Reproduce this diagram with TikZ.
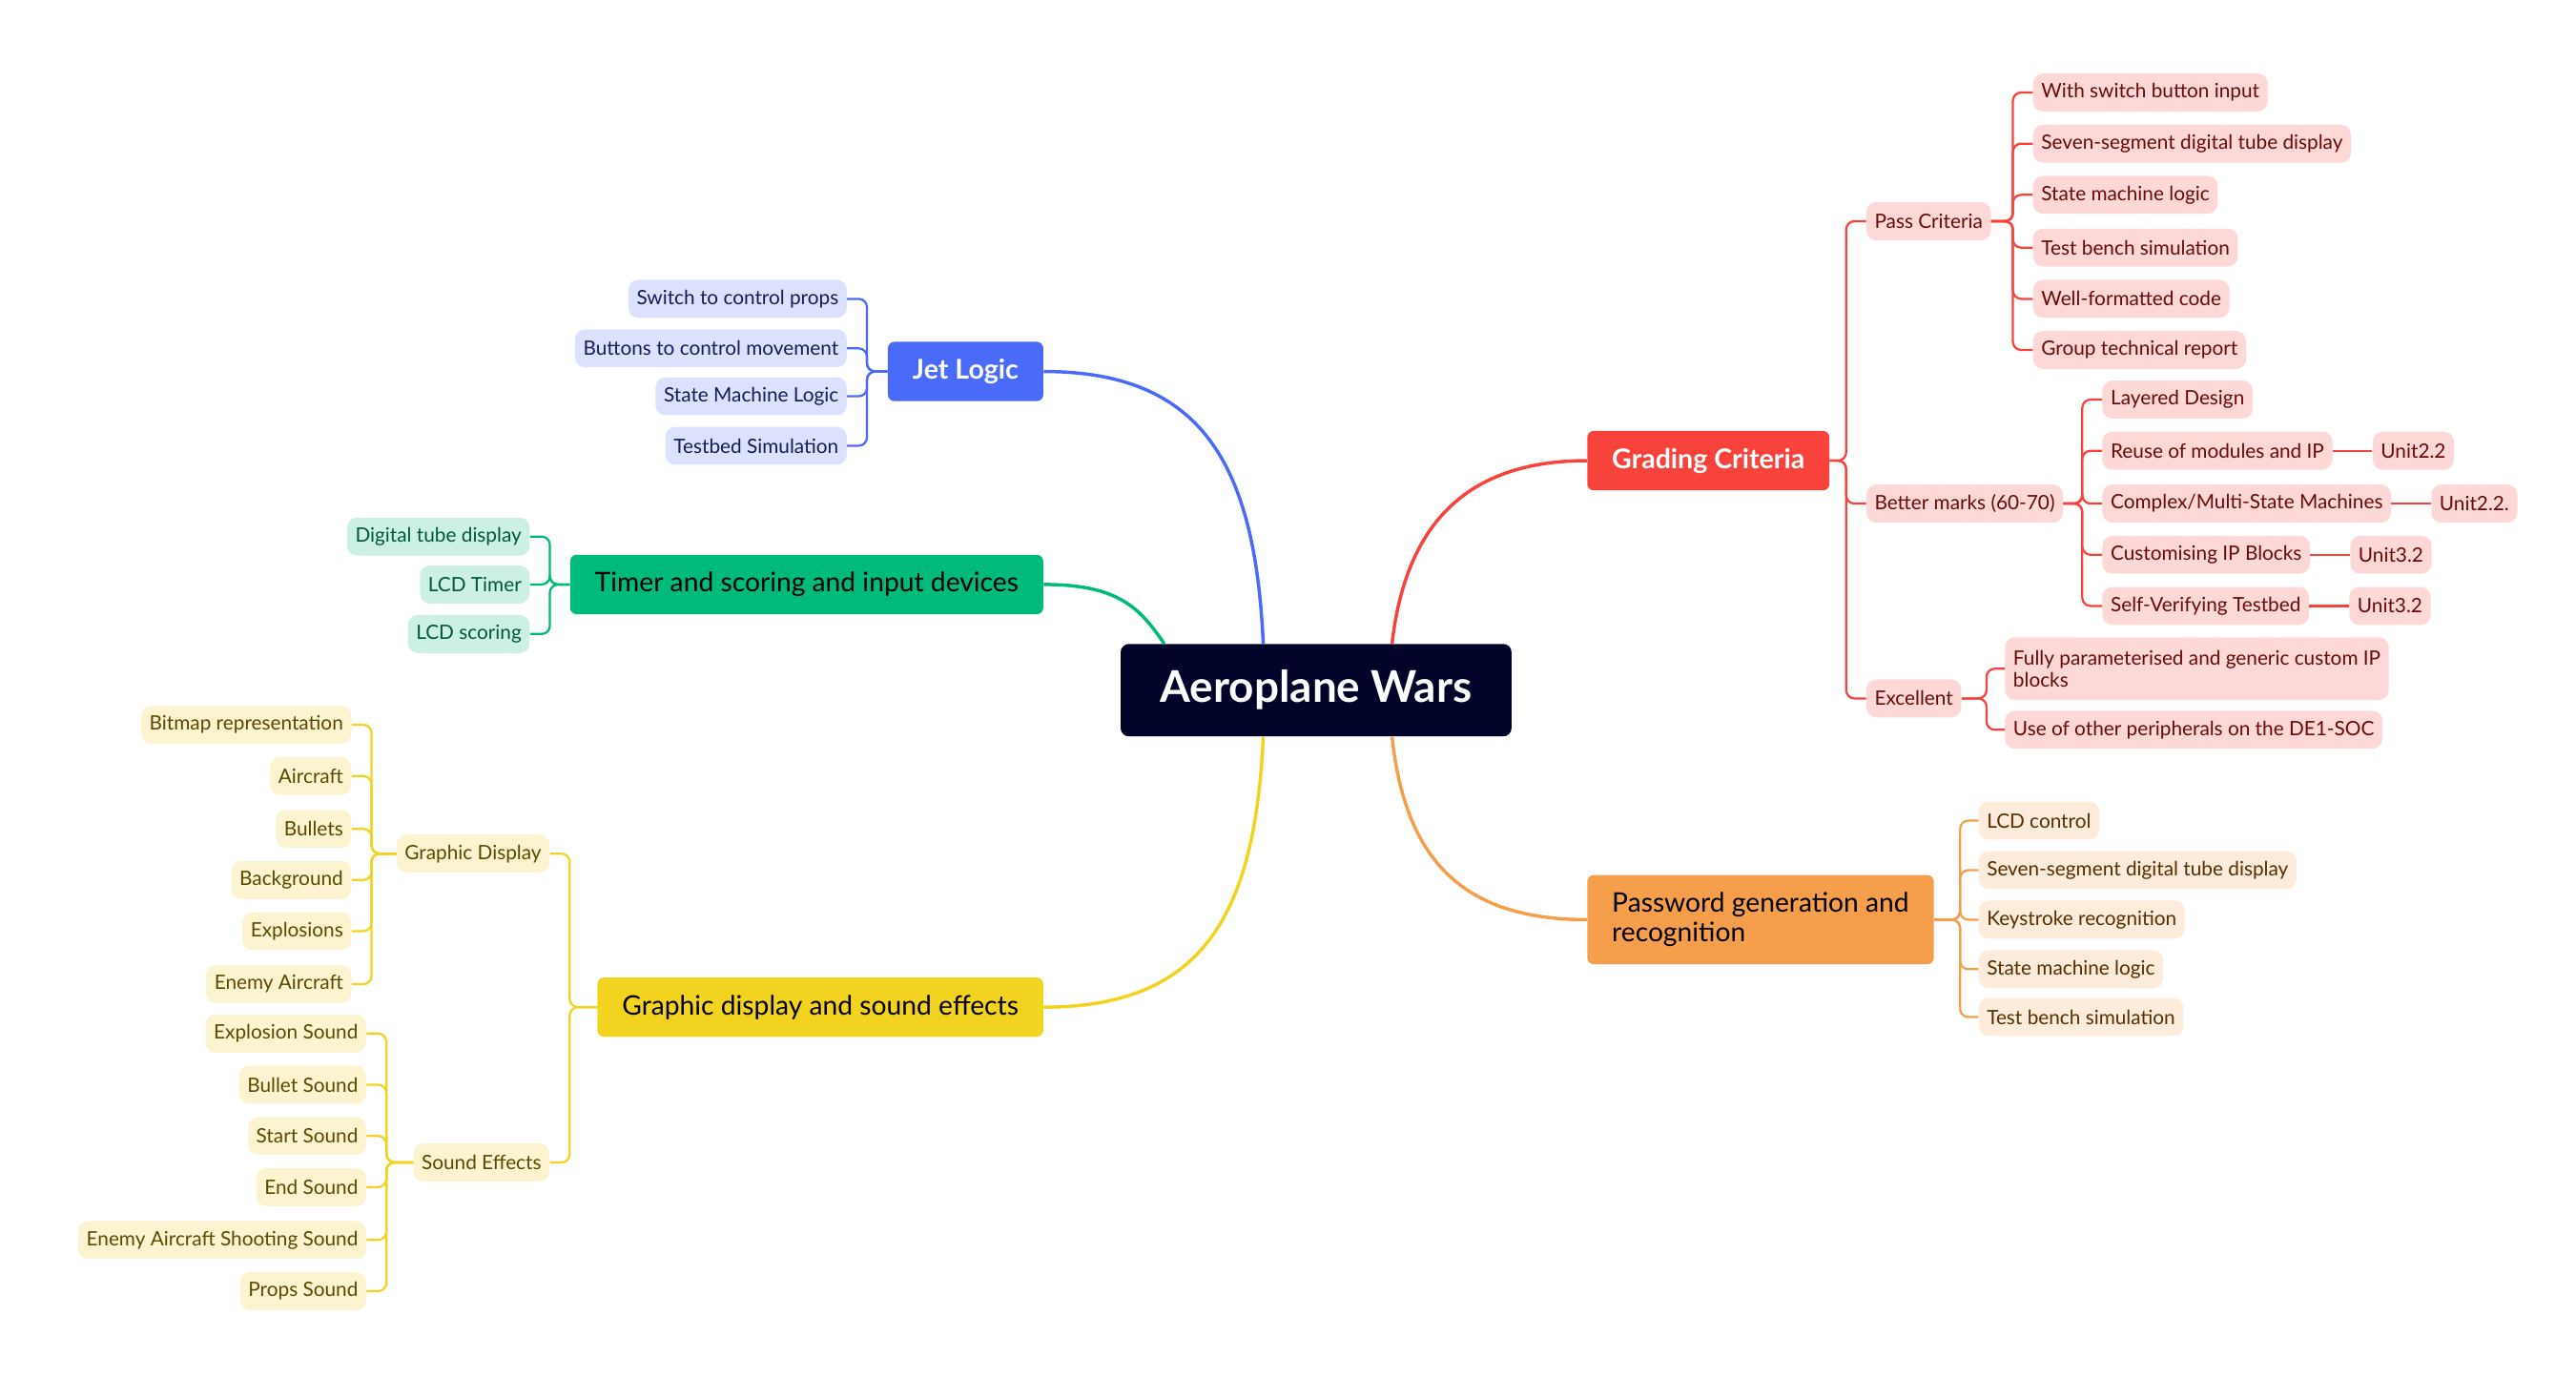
\documentclass[tikz,border=0pt]{standalone}
\usepackage{fontspec}
\setmainfont{Lato}
\usepackage{xcolor}
\usepackage{tikz}
\usetikzlibrary{positioning}

\definecolor{navy}{HTML}{020329}
\definecolor{jetblue}{HTML}{4A6BF9}
\definecolor{jetlight}{HTML}{DCE2FD}
\definecolor{jettext}{HTML}{141C5E}
\definecolor{timgreen}{HTML}{00BA7C}
\definecolor{timlight}{HTML}{CCF1E4}
\definecolor{timtext}{HTML}{00573A}
\definecolor{gfxyellow}{HTML}{F1D320}
\definecolor{gfxlight}{HTML}{FCF4D1}
\definecolor{gfxtext}{HTML}{5A4A00}
\definecolor{gradred}{HTML}{F8433D}
\definecolor{gradlight}{HTML}{FED8D7}
\definecolor{gradtext}{HTML}{6B0A0A}
\definecolor{pwdorange}{HTML}{F59F4C}
\definecolor{pwdlight}{HTML}{FDEBDB}
\definecolor{pwdtext}{HTML}{5A2E00}

\begin{document}
\begin{tikzpicture}[x=1pt, y=-1pt,
  title/.style={fill=navy, text=white, rounded corners=5pt, font=\fontsize{26.5}{30}\selectfont\bfseries, minimum height=56pt, inner xsep=24pt},
  branch/.style={rounded corners=4pt, font=\fontsize{16.3}{19}\selectfont, minimum height=36pt, inner xsep=15pt},
  boldbranch/.style={branch, text=white, font=\fontsize{16.5}{19}\selectfont\bfseries},
  leaf/.style={rounded corners=6pt, font=\fontsize{12}{14}\selectfont, minimum height=23pt, inner xsep=5pt},
  jetleaf/.style={leaf, fill=jetlight, text=jettext, anchor=east},
  timleaf/.style={leaf, fill=timlight, text=timtext, anchor=east},
  gfxleaf/.style={leaf, fill=gfxlight, text=gfxtext, anchor=east},
  gradleaf/.style={leaf, fill=gradlight, text=gradtext, anchor=west},
  pwdleaf/.style={leaf, fill=pwdlight, text=pwdtext, anchor=west},
  link/.style={line width=2pt},
  twig/.style={line width=1.3pt, rounded corners=5pt},
  node distance=24pt]
\useasboundingbox (0,0) rectangle (1560,834);
% centre
\node[title] (main) at (797,418) {Aeroplane Wars};
% main topics
\node[boldbranch, fill=jetblue, anchor=east] (jet) at (632,225) {Jet Logic};
\node[branch, fill=timgreen, text=black, anchor=east] (timer) at (632,354) {Timer and scoring and input devices};
\node[branch, fill=gfxyellow, text=black, anchor=east] (gfx) at (632,610) {Graphic display and sound effects};
\node[boldbranch, fill=gradred, anchor=west] (grade) at (961,279) {Grading Criteria};
\node[branch, fill=pwdorange, text=black, anchor=west, align=left, minimum height=54pt, font=\fontsize{16.3}{18}\selectfont] (pwd) at (961,557) {Password generation and\\recognition};
% main curves
\draw[link, jetblue] (jet.east) .. controls +(95,0) and +(-5,-110) .. ([xshift=-32pt]main.north);
\draw[link, timgreen] (timer.east) .. controls +(45,0) and +(-15,-22) .. ([xshift=-92pt]main.north);
\draw[link, gfxyellow] (gfx.east) .. controls +(95,0) and +(-5,110) .. ([xshift=-32pt]main.south);
\draw[link, gradred] (grade.west) .. controls +(-75,0) and +(8,-70) .. ([xshift=46pt]main.north);
\draw[link, pwdorange] (pwd.west) .. controls +(-75,0) and +(8,75) .. ([xshift=46pt]main.south);
% jet logic
\node[jetleaf] (props) at (513,181) {Switch to control props};
\node[jetleaf] (moves) at (513,211) {Buttons to control movement};
\node[jetleaf] (jetfsm) at (513,240) {State Machine Logic};
\node[jetleaf] (jettb) at (513,270) {Testbed Simulation};
\draw[twig, jetblue] (props.east) -- ++(12,0) |- (jet.west);
\draw[twig, jetblue] (moves.east) -- ++(12,0) |- (jet.west);
\draw[twig, jetblue] (jetfsm.east) -- ++(12,0) |- (jet.west);
\draw[twig, jetblue] (jettb.east) -- ++(12,0) |- (jet.west);
% timer and scoring
\node[timleaf] (tube) at (321,325) {Digital tube display};
\node[timleaf] (lcdtime) at (321,354) {LCD Timer};
\node[timleaf] (lcdscore) at (321,384) {LCD scoring};
\draw[twig, timgreen] (tube.east) -- ++(12,0) |- (timer.west);
\draw[twig, timgreen] (lcdtime.east) -- ++(12,0) |- (timer.west);
\draw[twig, timgreen] (lcdscore.east) -- ++(12,0) |- (timer.west);
% graphic display and sound
\node[gfxleaf] (gdisp) at (333,517) {Graphic Display};
\node[gfxleaf] (sfx) at (333,704) {Sound Effects};
\draw[twig, gfxyellow] (gdisp.east) -- ++(12,0) |- (gfx.west);
\draw[twig, gfxyellow] (sfx.east) -- ++(12,0) |- (gfx.west);
\node[gfxleaf] (bitmap) at (213,439) {Bitmap representation};
\node[gfxleaf] (aircraft) at (213,470) {Aircraft};
\node[gfxleaf] (bullets) at (213,502) {Bullets};
\node[gfxleaf] (backgr) at (213,533) {Background};
\node[gfxleaf] (explo) at (213,564) {Explosions};
\node[gfxleaf] (enemy) at (213,596) {Enemy Aircraft};
\draw[twig, gfxyellow] (bitmap.east) -- ++(12,0) |- (gdisp.west);
\draw[twig, gfxyellow] (aircraft.east) -- ++(12,0) |- (gdisp.west);
\draw[twig, gfxyellow] (bullets.east) -- ++(12,0) |- (gdisp.west);
\draw[twig, gfxyellow] (backgr.east) -- ++(12,0) |- (gdisp.west);
\draw[twig, gfxyellow] (explo.east) -- ++(12,0) |- (gdisp.west);
\draw[twig, gfxyellow] (enemy.east) -- ++(12,0) |- (gdisp.west);
\node[gfxleaf] (explsnd) at (222,626) {Explosion Sound};
\node[gfxleaf] (bullsnd) at (222,657) {Bullet Sound};
\node[gfxleaf] (startsnd) at (222,688) {Start Sound};
\node[gfxleaf] (endsnd) at (222,719) {End Sound};
\node[gfxleaf] (shootsnd) at (222,751) {Enemy Aircraft Shooting Sound};
\node[gfxleaf] (propsnd) at (222,782) {Props Sound};
\draw[twig, gfxyellow] (explsnd.east) -- ++(12,0) |- (sfx.west);
\draw[twig, gfxyellow] (bullsnd.east) -- ++(12,0) |- (sfx.west);
\draw[twig, gfxyellow] (startsnd.east) -- ++(12,0) |- (sfx.west);
\draw[twig, gfxyellow] (endsnd.east) -- ++(12,0) |- (sfx.west);
\draw[twig, gfxyellow] (shootsnd.east) -- ++(12,0) |- (sfx.west);
\draw[twig, gfxyellow] (propsnd.east) -- ++(12,0) |- (sfx.west);
% grading criteria
\node[gradleaf] (pass) at (1130,134) {Pass Criteria};
\node[gradleaf] (better) at (1130,305) {Better marks (60-70)};
\node[gradleaf] (excel) at (1130,423) {Excellent};
\draw[twig, gradred] (pass.west) -- ++(-12,0) |- (grade.east);
\draw[twig, gradred] (better.west) -- ++(-12,0) |- (grade.east);
\draw[twig, gradred] (excel.west) -- ++(-12,0) |- (grade.east);
\node[gradleaf] (switchin) at (1231,56) {With switch button input};
\node[gradleaf] (sevseg) at (1231,87) {Seven-segment digital tube display};
\node[gradleaf] (fsm) at (1231,118) {State machine logic};
\node[gradleaf] (tbench) at (1231,150) {Test bench simulation};
\node[gradleaf] (format) at (1231,181) {Well-formatted code};
\node[gradleaf] (report) at (1231,212) {Group technical report};
\draw[twig, gradred] (switchin.west) -- ++(-12,0) |- (pass.east);
\draw[twig, gradred] (sevseg.west) -- ++(-12,0) |- (pass.east);
\draw[twig, gradred] (fsm.west) -- ++(-12,0) |- (pass.east);
\draw[twig, gradred] (tbench.west) -- ++(-12,0) |- (pass.east);
\draw[twig, gradred] (format.west) -- ++(-12,0) |- (pass.east);
\draw[twig, gradred] (report.west) -- ++(-12,0) |- (pass.east);
\node[gradleaf] (layered) at (1273,242) {Layered Design};
\node[gradleaf] (reuse) at (1273,273) {Reuse of modules and IP};
\node[gradleaf] (multi) at (1273,305) {Complex/Multi-State Machines};
\node[gradleaf] (custom) at (1273,336) {Customising IP Blocks};
\node[gradleaf] (selfver) at (1273,367) {Self-Verifying Testbed};
\draw[twig, gradred] (layered.west) -- ++(-12,0) |- (better.east);
\draw[twig, gradred] (reuse.west) -- ++(-12,0) |- (better.east);
\draw[twig, gradred] (multi.west) -- ++(-12,0) |- (better.east);
\draw[twig, gradred] (custom.west) -- ++(-12,0) |- (better.east);
\draw[twig, gradred] (selfver.west) -- ++(-12,0) |- (better.east);
\node[gradleaf, right=of reuse] (unitA) {Unit2.2};
\node[gradleaf, right=of multi] (unitB) {Unit2.2.};
\node[gradleaf, right=of custom] (unitC) {Unit3.2};
\node[gradleaf, right=of selfver] (unitD) {Unit3.2};
\draw[twig, gradred] (reuse) -- (unitA);
\draw[twig, gradred] (multi) -- (unitB);
\draw[twig, gradred] (custom) -- (unitC);
\draw[twig, gradred] (selfver) -- (unitD);
\node[gradleaf, align=left, minimum height=38pt, font=\fontsize{12}{13}\selectfont] (generic) at (1214,405) {Fully parameterised and generic custom IP\\blocks};
\node[gradleaf] (periph) at (1214,442) {Use of other peripherals on the DE1-SOC};
\draw[twig, gradred] (generic.west) -- ++(-11,0) |- (excel.east);
\draw[twig, gradred] (periph.west) -- ++(-11,0) |- (excel.east);
% password generation
\node[pwdleaf] (lcdctl) at (1198,497) {LCD control};
\node[pwdleaf] (pwdseg) at (1198,527) {Seven-segment digital tube display};
\node[pwdleaf] (keys) at (1198,557) {Keystroke recognition};
\node[pwdleaf] (pwdfsm) at (1198,587) {State machine logic};
\node[pwdleaf] (pwdtb) at (1198,616) {Test bench simulation};
\draw[twig, pwdorange] (lcdctl.west) -- ++(-11,0) |- (pwd.east);
\draw[twig, pwdorange] (pwdseg.west) -- ++(-11,0) |- (pwd.east);
\draw[twig, pwdorange] (keys.west) -- ++(-11,0) |- (pwd.east);
\draw[twig, pwdorange] (pwdfsm.west) -- ++(-11,0) |- (pwd.east);
\draw[twig, pwdorange] (pwdtb.west) -- ++(-11,0) |- (pwd.east);
\end{tikzpicture}
\end{document}
